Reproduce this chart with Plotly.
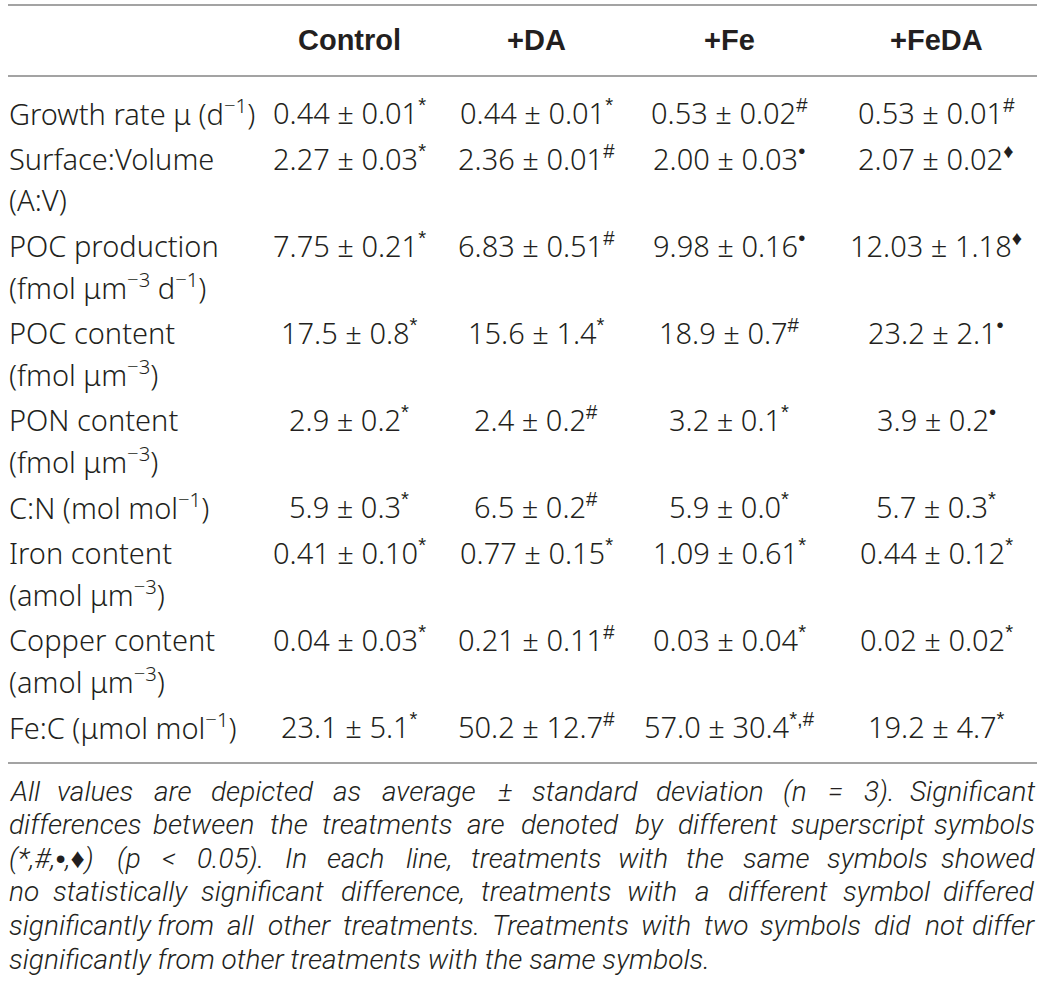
import plotly.graph_objects as go

# table content
treatments = ["Control", "+DA", "+Fe", "+FeDA"]
row_labels = [
    "Growth rate μ (d<sup>−1</sup>)",
    "Surface:Volume<br>(A:V)",
    "POC production<br>(fmol μm<sup>−3</sup> d<sup>−1</sup>)",
    "POC content<br>(fmol μm<sup>−3</sup>)",
    "PON content<br>(fmol μm<sup>−3</sup>)",
    "C:N (mol mol<sup>−1</sup>)",
    "Iron content<br>(amol μm<sup>−3</sup>)",
    "Copper content<br>(amol μm<sup>−3</sup>)",
    "Fe:C (μmol mol<sup>−1</sup>)",
]
decimals = [2, 2, 2, 1, 1, 1, 2, 2, 1]

control_mean = [0.44, 2.27, 7.75, 17.5, 2.9, 5.9, 0.41, 0.04, 23.1]
control_sd = [0.01, 0.03, 0.21, 0.8, 0.2, 0.3, 0.10, 0.03, 5.1]
control_sig = ["*", "*", "*", "*", "*", "*", "*", "*", "*"]

da_mean = [0.44, 2.36, 6.83, 15.6, 2.4, 6.5, 0.77, 0.21, 50.2]
da_sd = [0.01, 0.01, 0.51, 1.4, 0.2, 0.2, 0.15, 0.11, 12.7]
da_sig = ["*", "#", "#", "*", "#", "#", "*", "#", "#"]

fe_mean = [0.53, 2.00, 9.98, 18.9, 3.2, 5.9, 1.09, 0.03, 57.0]
fe_sd = [0.02, 0.03, 0.16, 0.7, 0.1, 0.0, 0.61, 0.04, 30.4]
fe_sig = ["#", "•", "•", "#", "*", "*", "*", "*", "*,#"]

feda_mean = [0.53, 2.07, 12.03, 23.2, 3.9, 5.7, 0.44, 0.02, 19.2]
feda_sd = [0.01, 0.02, 1.18, 2.1, 0.2, 0.3, 0.12, 0.02, 4.7]
feda_sig = ["#", "♦", "♦", "•", "•", "*", "*", "*", "*"]

footnote_lines = [
    "All values are depicted as average ± standard deviation (n = 3). Significant",
    "differences between the treatments are denoted by different superscript symbols",
    "(*,#,•,♦) (p < 0.05). In each line, treatments with the same symbols showed",
    "no statistically significant difference, treatments with a different symbol differed",
    "significantly from all other treatments. Treatments with two symbols did not differ",
    "significantly from other treatments with the same symbols.",
]

columns = [
    (control_mean, control_sd, control_sig),
    (da_mean, da_sd, da_sig),
    (fe_mean, fe_sd, fe_sig),
    (feda_mean, feda_sd, feda_sig),
]

# layout in screen pixels (page margin removed below, so data units == pixels)
W, H = 1043, 998
X_LEFT, X_RIGHT = 7, 1037
COL_X = [349, 536, 729, 936]
HEADER_Y = 40
LINE_TOP, LINE_HEAD, LINE_BOTTOM = 5, 76, 763
FIRST_ROW_Y = 112
LINE_STEP = 41
ROW_EXTRA = 5
FOOT_Y0, FOOT_STEP = 791, 33.6

INK = "#231f20"
SYM_FAMILY = "Liberation Sans"
BODY_FONT = dict(family="Noto Sans, Roboto, sans-serif", size=29, color=INK, weight=300)
HEAD_FONT = dict(family="Liberation Sans, Arial, sans-serif", size=29, color=INK, weight="bold")
FOOT_SIZE = 28
FOOT_FONT = dict(family="Roboto, sans-serif", size=FOOT_SIZE, color=INK, weight=300, style="italic")
FOOT_SCALE = 0.944  # Roboto light italic vs Helvetica advance widths

# rough Helvetica advance widths (per 1000 em) for justifying the note
CW = {}
CW.update({c: w for c, w in zip("abcdefghijklmnopqrstuvwxyz",
          [556, 556, 500, 556, 556, 278, 556, 556, 222, 222, 500, 222, 833,
           556, 556, 556, 556, 333, 500, 278, 556, 500, 722, 500, 500, 500])})
CW.update({c: w for c, w in zip("ABCDEFGHIJKLMNOPQRSTUVWXYZ",
          [667, 667, 722, 722, 667, 611, 778, 722, 278, 500, 667, 556, 833,
           722, 778, 667, 778, 722, 667, 611, 722, 667, 944, 667, 667, 611])})
CW.update({d: 556 for d in "0123456789"})
CW.update({" ": 278, ".": 278, ",": 278, "(": 333, ")": 333, "=": 584, "±": 584,
           "<": 584, "*": 389, "#": 556, "•": 350, "♦": 600, ";": 278, ":": 278, "-": 333})


def text_width(s, size):
    return sum(CW.get(ch, 556) for ch in s) / 1000 * size * FOOT_SCALE


def sym_span(s):
    return f'<span style="font-family:{SYM_FAMILY}">{s}</span>'


def sig_mark(s):
    return "<sup>" + sym_span(s) + "</sup>"


def foot_markup(word):
    # bullet and diamond look too small in Roboto; borrow them from Liberation Sans
    for ch in ("•", "♦"):
        word = word.replace(ch, sym_span(ch))
    return word


fig = go.Figure()
fig.add_trace(go.Scatter(x=[0, W], y=[0, H], mode="markers",
                         marker=dict(opacity=0), hoverinfo="skip", showlegend=False))

annotations = []


def add_text(x, y, text, font, xanchor="center"):
    annotations.append(dict(x=x, y=y, xref="x", yref="y", text=text, showarrow=False,
                            xanchor=xanchor, yanchor="middle", font=font))


# header
for cx, name in zip(COL_X, treatments):
    add_text(cx, HEADER_Y, "<b>" + name + "</b>", HEAD_FONT)

# body rows
y = FIRST_ROW_Y
for i, label in enumerate(row_labels):
    parts = label.split("<br>")
    for k, part in enumerate(parts):
        add_text(X_LEFT, y + k * LINE_STEP, part, BODY_FONT, xanchor="left")
    d = decimals[i]
    for cx, (means, sds, sigs) in zip(COL_X, columns):
        cell = f"{means[i]:.{d}f} ± {sds[i]:.{d}f}" + sig_mark(sigs[i])
        add_text(cx, y, cell, BODY_FONT)
    y += len(parts) * LINE_STEP + ROW_EXTRA

# justified italic footnote, placed word by word
span = X_RIGHT - X_LEFT
for j, line in enumerate(footnote_lines):
    fy = FOOT_Y0 + j * FOOT_STEP
    words = line.split(" ")
    if j == len(footnote_lines) - 1:
        add_text(X_LEFT, fy, foot_markup(line), FOOT_FONT, xanchor="left")
        continue
    widths = [text_width(w, FOOT_SIZE) for w in words]
    gap = (span - sum(widths)) / (len(words) - 1)
    pos = X_LEFT
    for k, (w, wd) in enumerate(zip(words, widths)):
        shown = foot_markup(w)
        if k == 0:
            add_text(X_LEFT, fy, shown, FOOT_FONT, xanchor="left")
        elif k == len(words) - 1:
            add_text(X_RIGHT, fy, shown, FOOT_FONT, xanchor="right")
        else:
            add_text(pos + wd / 2, fy, shown, FOOT_FONT)
        pos += wd + gap

shapes = []
for ly in (LINE_TOP, LINE_HEAD, LINE_BOTTOM):
    shapes.append(dict(type="line", xref="x", yref="y", x0=X_LEFT + 1, x1=X_RIGHT, y0=ly, y1=ly,
                       line=dict(color="#a3a3a3", width=2)))

fig.update_layout(
    width=W, height=H,
    margin=dict(l=0, r=0, t=0, b=0),
    paper_bgcolor="white", plot_bgcolor="white",
    xaxis=dict(range=[0, W], visible=False, fixedrange=True),
    yaxis=dict(range=[H, 0], visible=False, fixedrange=True),
    annotations=annotations,
    shapes=shapes,
    showlegend=False,
    hovermode=False,
)

fig.write_html("out.html", config={"displayModeBar": False},
               post_script="document.body.style.margin = '0px';")
